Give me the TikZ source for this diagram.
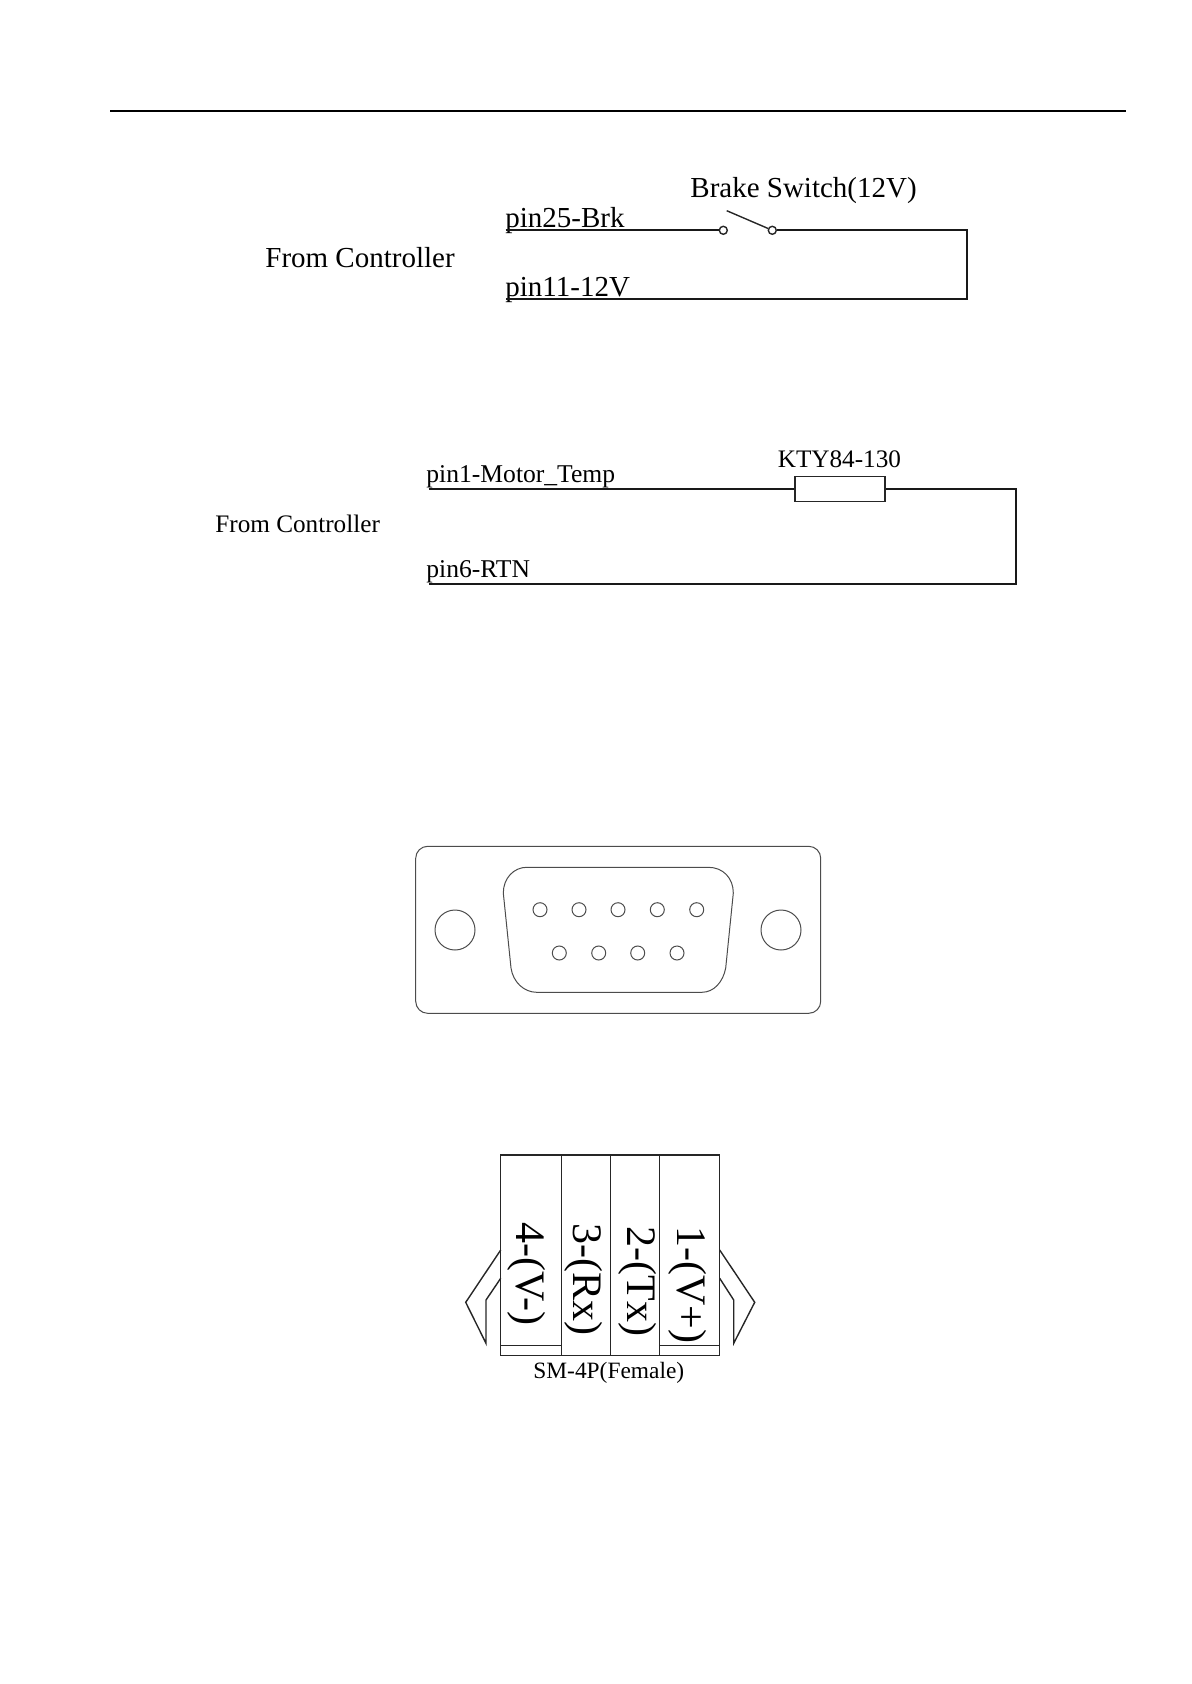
\documentclass[tikz,border=0pt]{standalone}
\usepackage{fontspec}
\setmainfont{Liberation Serif}
\usetikzlibrary{calc}
\tikzset{%
	% Style of the text labels
	BigName/.style={font=\fontsize{14.5}{16}\selectfont,inner sep=0,anchor=base west},
	MidName/.style={font=\fontsize{12.8}{14}\selectfont,inner sep=0,anchor=base west},
	SmallName/.style={font=\fontsize{12.6}{14}\selectfont,inner sep=0,anchor=base west},
	PlugName/.style={font=\fontsize{21}{23}\selectfont,inner sep=0,anchor=base west,rotate=-90},
	% Style of the wires
	Connection/.style={line width=0.85pt,draw=black!90},
	% Style of the thin drawing lines
	Outline/.style={line width=0.5pt,draw=black!70},
	% Style of the plug lines
	PlugLine/.style={line width=0.7pt,draw=black!85},
	% Style of the switch contact
	Contact/.style={circle,line width=0.7pt,draw=black!85,fill=white,inner sep=0,minimum size=4pt},
	% Style of the connector pin
	Pin/.style={circle,Outline,inner sep=0,minimum size=7pt},
	% Style of the mounting hole
	Hole/.style={circle,Outline,inner sep=0,minimum size=20pt},
}
\begin{document}
\begin{tikzpicture}[x=0.5pt,y=-0.5pt]
\useasboundingbox (0,0) rectangle (1191,1684);

%~~~~~~~~~~~~~~~~~~~~~~~~~~~~~~~~~~~~~~~~~~~~~~~~~~
% Page rule
%~~~~~~~~~~~~~~~~~~~~~~~~~~~~~~~~~~~~~~~~~~~~~~~~~~
\coordinate (R1) at (110, 111);
\coordinate (R2) at (1126, 111);
\draw[line width=1.1pt,black] (R1) -- (R2);

%~~~~~~~~~~~~~~~~~~~~~~~~~~~~~~~~~~~~~~~~~~~~~~~~~~
% Brake switch
%~~~~~~~~~~~~~~~~~~~~~~~~~~~~~~~~~~~~~~~~~~~~~~~~~~
\node[BigName] (Ctrl1) at (265, 268) {From Controller};
\node[BigName] (Brk) at (505, 227.5) {pin25-Brk};
\node[BigName] (V12) at (505, 297) {pin11-12V};
\node[BigName] (Sw) at (690, 198) {Brake Switch(12V)};

\coordinate (B1) at (505.7, 230.3);
\coordinate (B2) at (967, 230.3);
\coordinate (B3) at (967, 299);
\coordinate (B4) at (505.7, 299);
\coordinate (B5) at (726.7, 210.7);
\node[Contact] (S1) at (723.3, 230.3) {};
\node[Contact] (S2) at (772.3, 230.3) {};

\draw[Connection] (B1) -- (S1);
\draw[Connection] (S2) -- (B2) -- (B3) -- (B4);
\draw[PlugLine] (B5) -- (S2);

%~~~~~~~~~~~~~~~~~~~~~~~~~~~~~~~~~~~~~~~~~~~~~~~~~~
% Motor temperature sensor
%~~~~~~~~~~~~~~~~~~~~~~~~~~~~~~~~~~~~~~~~~~~~~~~~~~
\node[SmallName] (Ctrl2) at (215, 532) {From Controller};
\node[MidName] (Temp) at (426, 482) {pin1-Motor\_Temp};
\node[MidName] (Rtn) at (426, 577.5) {pin6-RTN};
\node[SmallName] (Kty) at (777.4, 467) {KTY84-130};

\coordinate (T1) at (428.6, 488.8);
\coordinate (T2) at (1016, 488.8);
\coordinate (T3) at (1016, 584);
\coordinate (T4) at (428.6, 584);
\node[rectangle,PlugLine,fill=white,inner sep=0,minimum width=45pt,minimum height=12.5pt] (Res) at (840, 488.8) {};

\draw[Connection] (T1) -- (Res);
\draw[Connection] (Res) -- (T2) -- (T3) -- (T4);

%~~~~~~~~~~~~~~~~~~~~~~~~~~~~~~~~~~~~~~~~~~~~~~~~~~
% D-sub connector
%~~~~~~~~~~~~~~~~~~~~~~~~~~~~~~~~~~~~~~~~~~~~~~~~~~
\node[rectangle,Outline,rounded corners=6pt,inner sep=0,minimum width=202.5pt,minimum height=83.5pt] (Plate) at (618.2, 929.8) {};
\node[Hole] (H1) at (455, 930) {};
\node[Hole] (H2) at (781, 930) {};

\draw[Outline] (526.7, 867.3) -- (708.3, 867.3)
	.. controls (723, 867.3) and (733.3, 878) .. (733.3, 893)
	-- (725.7, 968)
	.. controls (723, 982) and (714, 992.3) .. (701.7, 992.3)
	-- (536.7, 992.3)
	.. controls (524, 992.3) and (513, 982) .. (511, 968)
	-- (503.3, 893)
	.. controls (503.3, 878) and (514, 867.3) .. cycle;

\node[Pin] (P1) at (540, 909.7) {};
\node[Pin] (P2) at (579, 909.7) {};
\node[Pin] (P3) at (618, 909.7) {};
\node[Pin] (P4) at (657.3, 909.7) {};
\node[Pin] (P5) at (696.7, 909.7) {};
\node[Pin] (P6) at (559.3, 953) {};
\node[Pin] (P7) at (598.7, 953) {};
\node[Pin] (P8) at (637.7, 953) {};
\node[Pin] (P9) at (677, 953) {};

%~~~~~~~~~~~~~~~~~~~~~~~~~~~~~~~~~~~~~~~~~~~~~~~~~~
% SM-4P plug
%~~~~~~~~~~~~~~~~~~~~~~~~~~~~~~~~~~~~~~~~~~~~~~~~~~
\draw[PlugLine] (500.7, 1155) rectangle (719.7, 1355.7);
\draw[PlugLine] (561.7, 1155) -- (561.7, 1355.7);
\draw[PlugLine] (610.3, 1155) -- (610.3, 1355.7);
\draw[PlugLine] (659.3, 1155) -- (659.3, 1355.7);
\draw[PlugLine] (500.7, 1345.7) -- (561.7, 1345.7);
\draw[PlugLine] (659.3, 1345.7) -- (719.7, 1345.7);

% Latches
\draw[PlugLine] (500.7, 1250) -- (465.7, 1302.3) -- (486, 1343.3) -- (486, 1300) -- (500.7, 1278.3);
\draw[PlugLine] (719.7, 1250) -- (754.7, 1302.3) -- (733.7, 1343.3) -- (733.7, 1300) -- (719.7, 1278.3);

\node[PlugName] (L4) at (516, 1221.7) {4-(V-)};
\node[PlugName] (L3) at (573.7, 1223) {3-(Rx)};
\node[PlugName] (L2) at (627.7, 1226) {2-(Tx)};
\node[PlugName] (L1) at (677.7, 1226) {1-(V+)};
\node[font=\fontsize{11.7}{13}\selectfont,inner sep=0,anchor=base west] (Sm) at (533, 1378) {SM-4P(Female)};

\end{tikzpicture}
\end{document}
